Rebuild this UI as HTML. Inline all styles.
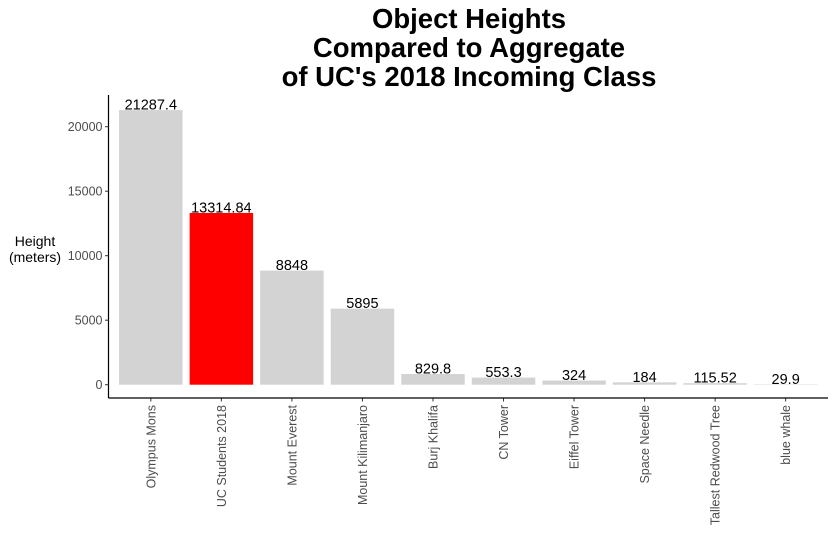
<!DOCTYPE html>
<html><head><meta charset="utf-8"><style>
body{margin:0;background:#fff;}
svg{display:block;font-family:"Liberation Sans",Arial,sans-serif;}
</style></head><body>
<svg id="chart" width="837" height="552">
<g font-weight="bold" font-size="27.5" text-anchor="middle" fill="#000">
<text x="469" y="28">Object Heights</text>
<text x="469" y="57">Compared to Aggregate</text>
<text x="469" y="86">of UC's 2018 Incoming Class</text>
</g>
<g font-size="14" text-anchor="middle" fill="#000">
<text x="35" y="246">Height</text>
<text x="35" y="262">(meters)</text>
</g>
<g id="bars"></g>
<g id="yaxis"></g>
<g id="xaxis"></g>
</svg>
<script>
const categories=["Olympus Mons","UC Students 2018","Mount Everest","Mount Kilimanjaro","Burj Khalifa","CN Tower","Eiffel Tower","Space Needle","Tallest Redwood Tree","blue whale"];
const values=[21287.4,13314.84,8848,5895,829.8,553.3,324,184,115.52,29.9];
const valueLabels=["21287.4","13314.84","8848","5895","829.8","553.3","324","184","115.52","29.9"];
const yTicks=[0,5000,10000,15000,20000];
const highlight="UC Students 2018";
const NS="http://www.w3.org/2000/svg";
const x0=108.5,x1=828,yBase=384.7,yTop=126.7;
const y=v=>yBase-(v/20000)*(yBase-yTop);
const step=(x1-x0)/(categories.length-1+1.2);
const xc=i=>x0+step*(0.6+i);
const bw=step*0.9;
function mk(tag,attrs,parent){const e=document.createElementNS(NS,tag);for(const k in attrs)e.setAttribute(k,attrs[k]);parent.appendChild(e);return e;}
const gb=document.getElementById('bars'),gy=document.getElementById('yaxis'),gx=document.getElementById('xaxis');


categories.forEach((c,i)=>{
  const r=mk('rect',{x:xc(i)-bw/2,y:y(values[i]),width:bw,height:yBase-y(values[i]),fill:c===highlight?'#ff0000':'#d3d3d3'},gb);
  
  
  const t=mk('text',{x:xc(i),y:y(values[i])-0.5,'text-anchor':'middle','font-size':'14.5',fill:'#000'},gb);
  t.textContent=valueLabels[i];
  
  
  mk('line',{x1:xc(i),x2:xc(i),y1:398,y2:401.5,stroke:'#333','stroke-width':1},gx);
  const l=mk('text',{transform:`translate(${xc(i)+4.5},405) rotate(-90)`,'text-anchor':'end','font-size':'12.5',fill:'#4d4d4d'},gx);
  l.textContent=c;
  
  
});
mk('line',{x1:x0,x2:x1,y1:398,y2:398,stroke:'#000','stroke-width':1.2},gx);
mk('line',{x1:x0,x2:x0,y1:95,y2:398,stroke:'#000','stroke-width':1.2},gy);
yTicks.forEach(v=>{
  mk('line',{x1:x0-3.5,x2:x0,y1:y(v),y2:y(v),stroke:'#333','stroke-width':1},gy);
  const t=mk('text',{x:x0-6,y:y(v)+4.5,'text-anchor':'end','font-size':'12.5',fill:'#4d4d4d'},gy);
  t.textContent=v;
  
  
});
</script>
</body></html>
